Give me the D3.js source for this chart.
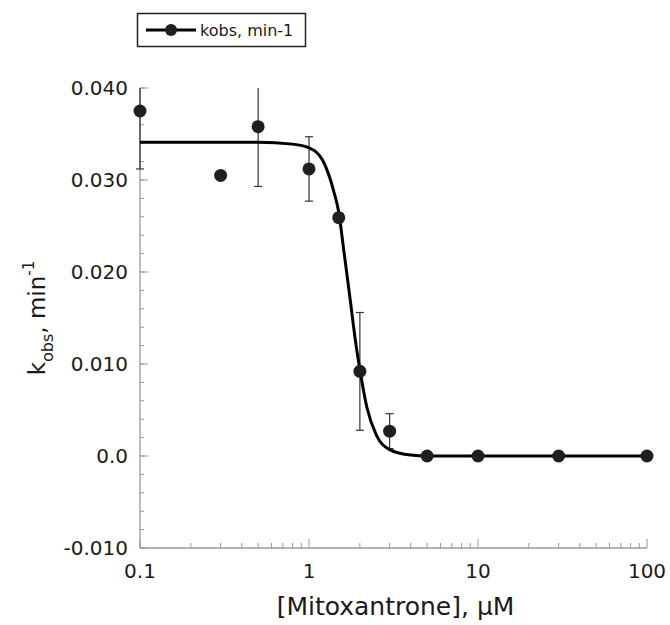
<!DOCTYPE html>
<html>
<head>
<meta charset="utf-8">
<script src="https://cdn.jsdelivr.net/npm/d3@7"></script>
<style>
  body { margin: 0; background: #fff; }
  text { font-family: "DejaVu Sans", "Open Sans", sans-serif; fill: #1a1a1a; }
</style>
</head>
<body>
<svg id="chart"></svg>
<script>
const WIDTH = 670;
const HEIGHT = 625;

// measured points
const conc = [0.1, 0.3, 0.5, 1, 1.5, 2, 3, 5, 10, 30, 100];
const kobs = [0.0375, 0.0305, 0.0358, 0.0312, 0.0259, 0.0092, 0.0027, 0, 0, 0, 0];
const kerr = [0.0063, 0, 0.0065, 0.0035, 0.0005, 0.0064, 0.0019, 0, 0, 0, 0];

// fitted curve
const fitX = [0.1, 0.5, 0.8, 1.0, 1.2, 1.4, 1.5, 1.6, 1.75, 1.9, 2.0, 2.2, 2.5, 3.0, 4.0, 5.0, 10, 100];
const fitY = [0.0341, 0.0341, 0.0339, 0.0335, 0.0322, 0.0288, 0.0265, 0.0226, 0.0171, 0.0120, 0.0094, 0.0053, 0.0023, 0.0007, 0.0001, 0, 0, 0];

const xTicks = [0.1, 1, 10, 100];
const yTicks = [-0.010, 0.0, 0.010, 0.020, 0.030, 0.040];
const yTickLabels = ["-0.010", "0.0", "0.010", "0.020", "0.030", "0.040"];

const margin = {left: 140, right: 23, top: 88, bottom: 77};

const svg = d3.select('#chart')
  .attr('width', WIDTH)
  .attr('height', HEIGHT);

const x = d3.scaleLog().domain([0.1, 100]).range([margin.left, WIDTH - margin.right]);
const y = d3.scaleLinear().domain([-0.010, 0.040]).range([HEIGHT - margin.bottom, margin.top]);

const axisColor = '#9a9a9a';

// y axis, ticks point inward
const yMinor = d3.range(-0.010, 0.0401, 0.002);
const yAxis = svg.append('g').attr('transform', `translate(${margin.left},0)`);
yAxis.selectAll('line.minor').data(yMinor).enter().append('line')
  .attr('x1', 0).attr('x2', 4)
  .attr('y1', d => y(d)).attr('y2', d => y(d))
  .attr('stroke', axisColor);
yAxis.selectAll('line.major').data(yTicks).enter().append('line')
  .attr('x1', 0).attr('x2', 8)
  .attr('y1', d => y(d)).attr('y2', d => y(d))
  .attr('stroke', axisColor);
yAxis.append('line').attr('x1', 0).attr('x2', 0)
  .attr('y1', y(-0.010)).attr('y2', y(0.040)).attr('stroke', axisColor).attr('stroke-width', 1.3);
yAxis.selectAll('text').data(yTicks).enter().append('text')
  .attr('x', -12).attr('y', d => y(d) + 7)
  .attr('text-anchor', 'end')
  .style('font-size', '20px')
  .text((d, i) => yTickLabels[i]);

// x axis, log ticks pointing up
const xMinor = [];
[0.1, 1, 10].forEach(dec => { for (let k = 2; k <= 9; k++) xMinor.push(dec * k); });
const xAxis = svg.append('g').attr('transform', `translate(0,${y(-0.010)})`);
xAxis.selectAll('line.minor').data(xMinor).enter().append('line')
  .attr('x1', d => x(d)).attr('x2', d => x(d))
  .attr('y1', 0).attr('y2', -5)
  .attr('stroke', axisColor);
xAxis.selectAll('line.major').data(xTicks).enter().append('line')
  .attr('x1', d => x(d)).attr('x2', d => x(d))
  .attr('y1', 0).attr('y2', -9)
  .attr('stroke', axisColor);
xAxis.append('line').attr('x1', x(0.1)).attr('x2', x(100))
  .attr('y1', 0).attr('y2', 0).attr('stroke', axisColor).attr('stroke-width', 1.3);
xAxis.selectAll('text').data(xTicks).enter().append('text')
  .attr('x', d => x(d)).attr('y', 30)
  .attr('text-anchor', 'middle')
  .style('font-size', '20px')
  .text(d => d);

// clip to plot area
svg.append('clipPath').attr('id', 'plot')
  .append('rect')
  .attr('x', margin.left - 10).attr('y', y(0.040))
  .attr('width', WIDTH - margin.left).attr('height', y(-0.010) - y(0.040));

const plot = svg.append('g').attr('clip-path', 'url(#plot)');

// error bars
const errData = conc.map((c, i) => ({c: c, v: kobs[i], e: kerr[i]})).filter(d => d.e > 0);
errData.forEach(d => {
  const g = plot.append('g').attr('stroke', '#333').attr('stroke-width', 1.2);
  const xp = x(d.c);
  g.append('line').attr('x1', xp).attr('x2', xp).attr('y1', y(d.v + d.e)).attr('y2', y(d.v - d.e));
  if (d.v + d.e < 0.040)
    g.append('line').attr('x1', xp - 4).attr('x2', xp + 4).attr('y1', y(d.v + d.e)).attr('y2', y(d.v + d.e));
  g.append('line').attr('x1', xp - 4).attr('x2', xp + 4).attr('y1', y(d.v - d.e)).attr('y2', y(d.v - d.e));
});

// fit line
const line = d3.line().x(d => x(d[0])).y(d => y(d[1])).curve(d3.curveMonotoneX);
plot.append('path')
  .datum(fitX.map((v, i) => [v, fitY[i]]))
  .attr('d', line)
  .attr('fill', 'none')
  .attr('stroke', '#000')
  .attr('stroke-width', 3);

// points
plot.selectAll('circle').data(conc).enter().append('circle')
  .attr('cx', d => x(d))
  .attr('cy', (d, i) => y(kobs[i]))
  .attr('r', 6.5)
  .attr('fill', '#1f1f1f');

// legend
const lg = svg.append('g');
lg.append('rect').attr('x', 137.5).attr('y', 13.5).attr('width', 168).attr('height', 33)
  .attr('fill', 'none').attr('stroke', '#222').attr('stroke-width', 1.5);
lg.append('line').attr('x1', 146).attr('x2', 196).attr('y1', 30).attr('y2', 30)
  .attr('stroke', '#000').attr('stroke-width', 3);
lg.append('circle').attr('cx', 171).attr('cy', 30).attr('r', 6).attr('fill', '#1f1f1f');
lg.append('text').attr('x', 200).attr('y', 36).style('font-size', '16px').text('kobs, min-1');

// axis titles
svg.append('text')
  .attr('x', (x(0.1) + x(100)) / 2 + 2).attr('y', 615)
  .attr('text-anchor', 'middle')
  .style('font-size', '25px')
  .text('[Mitoxantrone], μM');

const yt = svg.append('text')
  .attr('transform', `translate(45, ${(y(-0.010) + y(0.040)) / 2}) rotate(-90)`)
  .attr('text-anchor', 'middle')
  .style('font-size', '23px');
yt.append('tspan').text('k');
yt.append('tspan').attr('dy', 8).style('font-size', '16px').text('obs');
yt.append('tspan').attr('dy', -8).text(', min');
yt.append('tspan').attr('dy', -11).style('font-size', '15px').text('-1');
</script>
</body>
</html>
